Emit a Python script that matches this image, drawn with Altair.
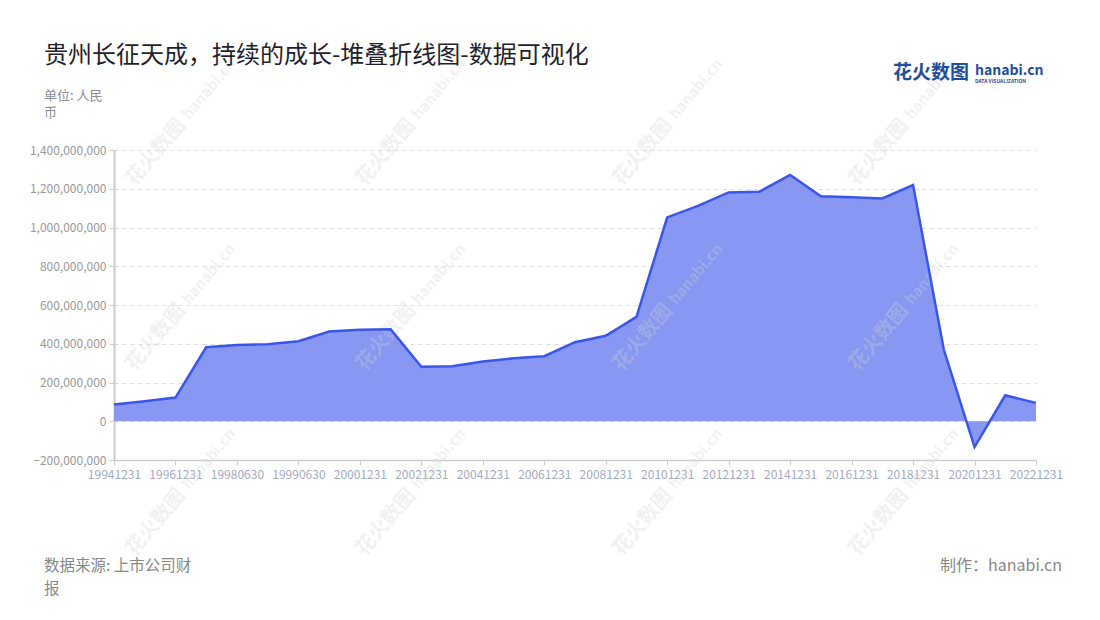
import math
import altair as alt
import pandas as pd

# ---------------- data ----------------
dates = ["19941231", "19951231", "19961231", "19971231", "19980630", "19981231",
         "19990630", "19991231", "20001231", "20011231", "20021231", "20031231",
         "20041231", "20051231", "20061231", "20071231", "20081231", "20091231",
         "20101231", "20111231", "20121231", "20131231", "20141231", "20151231",
         "20161231", "20171231", "20181231", "20191231", "20201231", "20211231",
         "20221231"]
values_m = [86, 103, 122, 382, 394, 398, 413, 463, 472, 475, 281, 284, 308, 325,
            336, 408, 441, 539, 1052, 1112, 1181, 1185, 1271, 1161, 1156, 1150,
            1219, 370, -133, 134, 95]
label_dates = dates[0:8:2] + dates[8::2]
y_ticks = [-200000000, 0, 200000000, 400000000, 600000000, 800000000,
           1000000000, 1200000000, 1400000000]

df = pd.DataFrame({"date": dates, "value": [v * 1_000_000 for v in values_m]})

FONT = "Noto Sans CJK SC"
W, H = 922, 310
OX, OY = 114, 150  # plot origin on page (used for decorative texts only)

x_enc = alt.X("date:O", sort=None,
              scale=alt.Scale(type="point", padding=0),
              axis=alt.Axis(title=None, values=label_dates, labelAngle=0,
                            labelColor="#a3abbf", labelFontSize=12, labelFont=FONT,
                            labelOverlap=False,
                            domainColor="#cccccc", domainWidth=1.5,
                            tickColor="#cccccc", tickSize=5, labelPadding=4,
                            grid=False))
y_enc = alt.Y("value:Q",
              scale=alt.Scale(domain=[-200000000, 1400000000], nice=False),
              axis=alt.Axis(title=None, values=y_ticks, format=",d",
                            labelOverlap=False,
                            labelColor="#999999", labelFontSize=12, labelFont=FONT,
                            domainColor="#cccccc", domainWidth=2,
                            tickColor="#cccccc", tickSize=5, labelPadding=3,
                            grid=True, gridColor="#dddddd", gridDash=[4, 4]))

base = alt.Chart(df)
area = base.mark_area(color="#8797f2", opacity=1).encode(x=x_enc, y=y_enc)
line = base.mark_line(color="#3a56e8", strokeWidth=2.5).encode(x=x_enc, y=y_enc)


def txt(text, px, py, size, color, align="left", weight="normal", angle=0, opacity=1.0):
    kw = dict(align=align, baseline="middle", fontSize=size, font=FONT,
              color=color, fontWeight=weight, opacity=opacity)
    if angle:
        kw["angle"] = angle
    return alt.Chart(pd.DataFrame({"t": [text]})).mark_text(**kw).encode(
        x=alt.value(px - OX), y=alt.value(py - OY), text="t:N")


# watermarks
wm_layers = []
wm_x = [130, 360, 617, 853]
wm_y = [183, 368, 553]
ang = 310
dx, dy = math.cos(math.radians(-50)), math.sin(math.radians(-50))
for wy in wm_y:
    for wx in wm_x:
        wm_layers.append(txt("花火数图", wx, wy, 20, "#d4d4d4", weight="bold",
                             angle=ang, opacity=0.3))
        wm_layers.append(txt("hanabi.cn", wx + dx * 86, wy + dy * 86, 15, "#d4d4d4",
                             weight="bold", angle=ang, opacity=0.3))

texts = [
    txt("贵州长征天成，持续的成长-堆叠折线图-数据可视化", 44, 56, 24, "#1f1f2e"),
    txt("单位: 人民", 44, 96, 13, "#8a8a99"),
    txt("币", 44, 113, 13, "#8a8a99"),
    txt("数据来源: 上市公司财", 44, 566, 15.5, "#888888"),
    txt("报", 44, 589, 15.5, "#888888"),
    txt("制作：hanabi.cn", 1062, 566, 16, "#888888", align="right"),
    txt("花火数图", 893, 73, 19, "#1f4e9c", weight="bold"),
    txt("hanabi.cn", 975, 71, 14, "#1f4e9c", weight="bold"),
    txt("DATA VISUALIZATION", 975, 81, 5, "#1f4e9c", weight="bold"),
]

chart = alt.layer(area, *wm_layers, line, *texts).properties(
    width=W, height=H,
    autosize=alt.AutoSizeParams(type="none"),
    padding={"left": 106, "top": 142, "right": 40, "bottom": 150},
    background="white",
).configure_view(stroke=None)

chart.save("out.html", embed_options={"renderer": "svg", "actions": False})
